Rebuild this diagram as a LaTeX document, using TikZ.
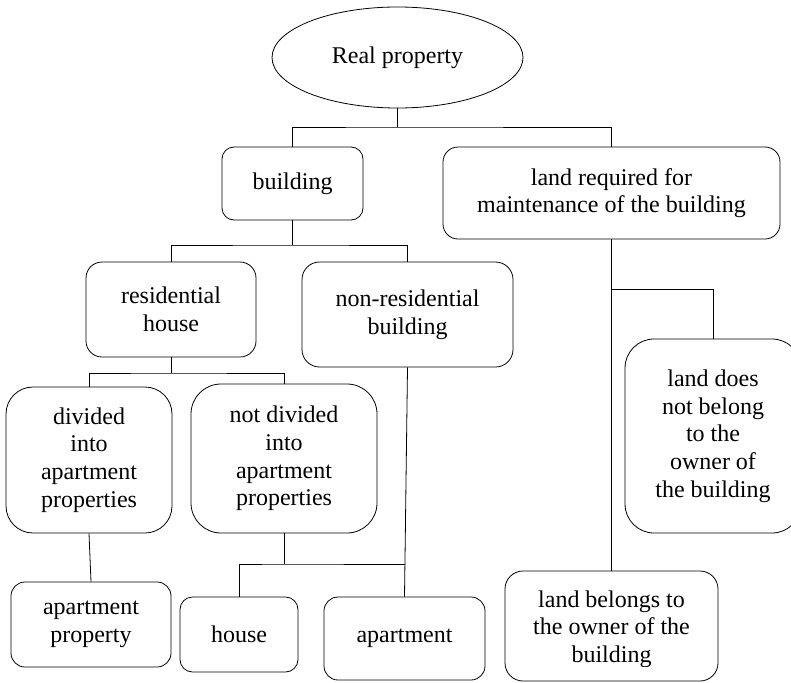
\documentclass[tikz,border=0pt]{standalone}
\usepackage{fontspec}
\setmainfont{Liberation Serif}
\usetikzlibrary{shapes.geometric}
\begin{document}
\begin{tikzpicture}[x=1pt,y=-1pt,
  every node/.style={font=\rmfamily\fontsize{24}{27.7}\selectfont, align=center, inner sep=0pt},
  box/.style={draw, line width=0.8pt, rounded corners=#1},
  box/.default=14pt,
  link/.style={draw, line width=0.8pt}]
\useasboundingbox (0,0) rectangle (791,682);

% root
\node[draw, ellipse, line width=0.8pt, minimum width=251pt, minimum height=101pt] (rp) at (397.5,57.5) {\raisebox{-2.5pt}{Real property}};

% first level
\node[box=12pt, minimum width=141pt, minimum height=73pt] (bld) at (292.5,183.5) {building};
\node[box=15pt, minimum width=337pt, minimum height=92pt] (lreq) at (611.5,193) {land required for\\maintenance of the building};

% kinds of building
\node[box=16pt, minimum width=170pt, minimum height=95pt] (res) at (171,309.5) {residential\\house};
\node[box=17.5pt, minimum width=211pt, minimum height=105pt] (nres) at (407.5,314.5) {non-residential\\building};

% kinds of residential house
\node[box=27pt, minimum width=166pt, minimum height=146pt] (div) at (89,460) {divided\\into\\apartment\\properties};
\node[box=30pt, minimum width=186pt, minimum height=149pt] (ndiv) at (284,458.5) {not divided\\into\\apartment\\properties};

% bottom row
\node[box=14pt, minimum width=160pt, minimum height=85pt] (aprop) at (91,624.5) {apartment\\property};
\node[box=12.5pt, minimum width=118pt, minimum height=75pt] (house) at (239,634.5) {house};
\node[box=14pt, minimum width=161pt, minimum height=83pt] (apt) at (404.5,638.5) {apartment};

% kinds of land
\node[box=29pt, minimum width=176pt, minimum height=194pt] (lnot) at (713,436) {land does\\not belong\\to the\\owner of\\the building};
\node[box=18pt, minimum width=213pt, minimum height=110pt] (lown) at (611.5,626) {};
\begin{scope}
  \clip (500,560) rectangle (725,666);
  \node (lownt) at (611.5,629) {land belongs to\\the owner of the\\building};
\end{scope}

% junctions
\coordinate (j1) at (397.5,127);
\coordinate (j2) at (292.5,245);
\coordinate (j3) at (171,373);
\coordinate (j4) at (284,564);
\coordinate (j5) at (404.9,564);
\coordinate (j6) at (611.5,289);

% connectors
\path[link] (rp.south) -- (j1);
\path[link] (bld.north) |- (j1) -| (lreq.north);
\path[link] (bld.south) -- (j2);
\path[link] (res.north) |- (j2) -| (nres.north);
\path[link] (res.south) -- (j3);
\path[link] (div.north) |- (j3) -| (ndiv.north);
\path[link] (div.south) -- (aprop.north);
\path[link] (ndiv.south) -- (j4);
\path[link] (house.north) |- (j4) -- (j5);
\path[link] (nres.south) -- (apt.north);
\path[link] (lreq.south) -- (lown.north);
\path[link] (j6) -| (lnot.north);
\end{tikzpicture}
\end{document}
